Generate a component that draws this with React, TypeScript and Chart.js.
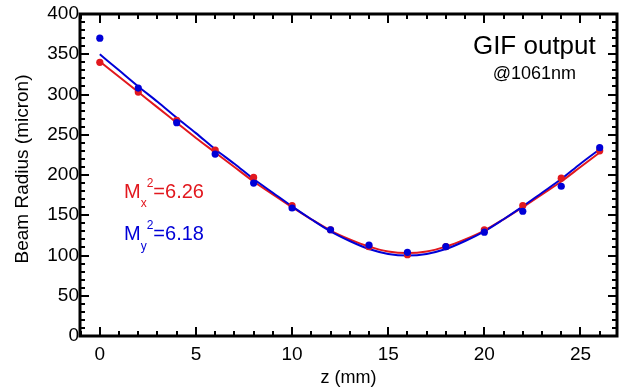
import React, { useEffect, useRef } from "react";
import { Chart, registerables } from "chart.js";

Chart.register(...registerables);

// measured points (z in mm, radius in micron)
const zPoints = [0, 2, 4, 6, 8, 10, 12, 14, 16, 18, 20, 22, 24, 26];
const redPoints = [340, 303, 268, 231, 197, 162, 132, 111, 101, 111, 132, 162, 196, 230];
const bluePoints = [370, 308, 265, 226, 190, 159, 132, 113, 104, 111, 129, 155, 186, 234];

// fitted curves, read every 1 mm
const zCurve = [0, 1, 2, 3, 4, 5, 6, 7, 8, 9, 10, 11, 12, 13, 14, 15, 16, 17, 18, 19, 20, 21, 22, 23, 24, 25, 26];
const redCurve = [341, 322, 303, 284, 265, 246, 228, 210, 192, 176, 160, 145, 131, 120, 111, 105, 103, 105, 111, 120, 131, 145, 160, 176, 192, 210, 228];
const blueCurve = [350, 330, 310, 291, 271, 252, 232, 214, 195, 178, 161, 145, 130, 118, 108, 102, 100, 102, 108, 118, 130, 145, 161, 178, 195, 214, 232];

const xTickLabels = [0, 5, 10, 15, 20, 25];
const yTickLabels = [0, 50, 100, 150, 200, 250, 300, 350, 400];

const X_MIN = -1.03;
const X_MAX = 26.9;

const RED = "rgb(226,24,30)";
const BLUE = "rgb(0,0,215)";
const FONT = "'Liberation Sans', Arial, Helvetica, sans-serif";

const framePlugin = {
  id: "frameTicks",
  afterDraw(chart: any) {
    const { ctx, chartArea } = chart;
    const xs = chart.scales.x;
    const ys = chart.scales.y;
    const { left, right, top, bottom } = chartArea;
    ctx.save();
    ctx.strokeStyle = "#000";
    ctx.lineWidth = 2;
    ctx.beginPath();
    for (let v = Math.ceil(X_MIN); v <= Math.floor(X_MAX); v++) {
      const px = Math.round(xs.getPixelForValue(v));
      const len = v % 5 === 0 ? 9 : 5;
      ctx.moveTo(px, bottom);
      ctx.lineTo(px, bottom - len);
      ctx.moveTo(px, top);
      ctx.lineTo(px, top + len);
    }
    for (let v = 0; v <= 400; v += 10) {
      const py = Math.round(ys.getPixelForValue(v));
      const len = v % 50 === 0 ? 9 : 5;
      ctx.moveTo(left, py);
      ctx.lineTo(left + len, py);
      ctx.moveTo(right, py);
      ctx.lineTo(right - len, py);
    }
    ctx.stroke();
    ctx.lineWidth = 3;
    ctx.strokeRect(left, top, right - left, bottom - top);

    // axis titles
    ctx.fillStyle = "#000";
    ctx.font = `18px ${FONT}`;
    ctx.textAlign = "center";
    ctx.textBaseline = "alphabetic";
    ctx.fillText("z (mm)", (left + right) / 2, 383);
    ctx.save();
    ctx.translate(28, (top + bottom) / 2 - 6);
    ctx.rotate(-Math.PI / 2);
    ctx.font = `19px ${FONT}`;
    ctx.fillText("Beam Radius (micron)", 0, 0);
    ctx.restore();

    // annotations
    const gx = xs.getPixelForValue(22.6);
    ctx.font = `26px ${FONT}`;
    ctx.fillText("GIF output", gx, ys.getPixelForValue(350));
    ctx.font = `18px ${FONT}`;
    ctx.fillText("@1061nm", gx, ys.getPixelForValue(319));

    const drawM = (sub: string, val: string, yv: number, color: string) => {
      const x0 = xs.getPixelForValue(1.26);
      const y0 = ys.getPixelForValue(yv);
      ctx.fillStyle = color;
      ctx.textAlign = "left";
      ctx.font = `20px ${FONT}`;
      ctx.fillText("M", x0, y0);
      const mw = ctx.measureText("M").width;
      ctx.font = `12px ${FONT}`;
      ctx.fillText(sub, x0 + mw, y0 + 9.5);
      const sw = ctx.measureText(sub).width;
      ctx.fillText("2", x0 + mw + sw, y0 - 11);
      const tw = ctx.measureText("2").width;
      ctx.font = `20px ${FONT}`;
      ctx.fillText("=" + val, x0 + mw + sw + tw, y0);
    };
    drawM("x", "6.26", 171.5, RED);
    drawM("y", "6.18", 119, BLUE);
    ctx.restore();
  },
};

export default function App() {
  const ref = useRef<HTMLCanvasElement>(null);
  useEffect(() => {
    document.body.style.margin = "0";
    const toXY = (xs: number[], ys: number[]) => xs.map((x, i) => ({ x, y: ys[i] }));
    const chart = new Chart(ref.current as HTMLCanvasElement, {
      type: "scatter",
      data: {
        datasets: [
          {
            label: "blue points",
            data: toXY(zPoints, bluePoints),
            showLine: false,
            pointRadius: 3.6,
            pointBackgroundColor: BLUE,
            pointBorderWidth: 0,
            order: 0,
          },
          {
            label: "red points",
            data: toXY(zPoints, redPoints),
            showLine: false,
            pointRadius: 3.6,
            pointBackgroundColor: RED,
            pointBorderWidth: 0,
            order: 1,
          },
          {
            label: "blue fit",
            data: toXY(zCurve, blueCurve),
            showLine: true,
            pointRadius: 0,
            borderColor: BLUE,
            borderWidth: 2,
            cubicInterpolationMode: "monotone",
            order: 2,
          },
          {
            label: "red fit",
            data: toXY(zCurve, redCurve),
            showLine: true,
            pointRadius: 0,
            borderColor: RED,
            borderWidth: 2,
            cubicInterpolationMode: "monotone",
            order: 3,
          },
        ],
      },
      options: {
        responsive: false,
        animation: false,
        layout: { padding: { top: 14, right: 1, left: 0, bottom: 0 } },
        plugins: { legend: { display: false }, tooltip: { enabled: false } },
        scales: {
          x: {
            type: "linear",
            min: X_MIN,
            max: X_MAX,
            grid: { display: false, drawTicks: false },
            border: { display: false },
            ticks: {
              stepSize: 1,
              autoSkip: false,
              maxRotation: 0,
              padding: 7,
              color: "#000",
              font: { size: 19, family: FONT },
              callback: (v: any) => (xTickLabels.includes(Number(v)) ? String(v) : ""),
            },
            afterFit: (s: any) => {
              s.height = 55;
              s.paddingLeft = 0;
              s.paddingRight = 0;
            },
          },
          y: {
            min: 0,
            max: 400,
            grid: { display: false, drawTicks: false },
            border: { display: false },
            ticks: {
              stepSize: 10,
              autoSkip: false,
              padding: 1,
              color: "#000",
              font: { size: 19, family: FONT },
              callback: (v: any) => (yTickLabels.includes(Number(v)) ? String(v) : ""),
            },
            afterFit: (s: any) => {
              s.width = 80;
              s.paddingTop = 0;
              s.paddingBottom = 0;
            },
          },
        },
      },
      plugins: [framePlugin],
    });
    return () => chart.destroy();
  }, []);
  return (
    <div style={{ width: 621, height: 391 }}>
      <canvas ref={ref} width={621} height={391} />
    </div>
  );
}
